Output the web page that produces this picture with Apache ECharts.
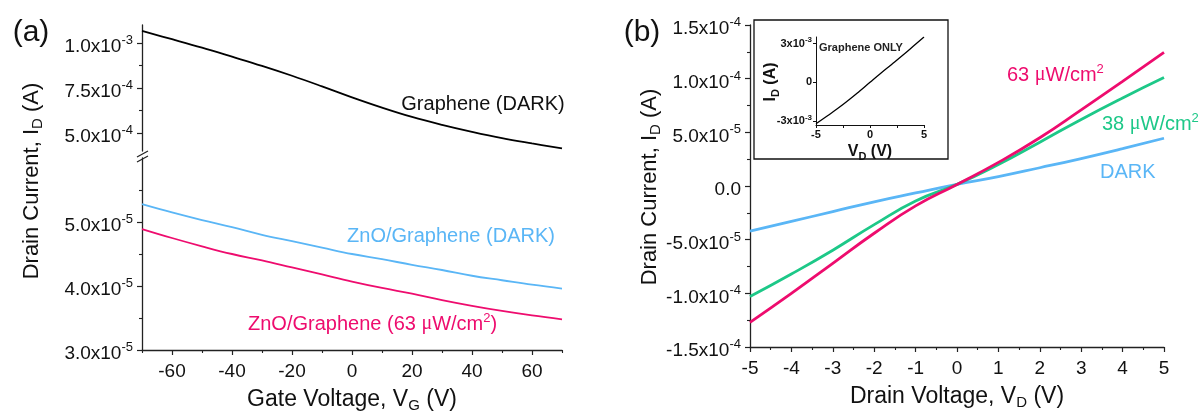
<!DOCTYPE html>
<html>
<head>
<meta charset="utf-8">
<script src="https://cdn.jsdelivr.net/npm/echarts@6/dist/echarts.min.js"></script>
<style>
html,body{margin:0;padding:0;background:#fff;width:1203px;height:415px;overflow:hidden;}
#c{width:1203px;height:415px;overflow:hidden;}
</style>
</head>
<body>
<div id="c"></div>
<script>
// ---------- data ----------
const gateVoltage = [-70,-60,-50,-40,-30,-20,-10,0,10,20,30,40,50,60,70];
const grapheneDark = [1.067e-3,1.021e-3,9.74e-4,9.24e-4,8.73e-4,8.18e-4,7.59e-4,6.98e-4,6.41e-4,5.89e-4,5.45e-4,5.06e-4,4.71e-4,4.42e-4,4.15e-4];
const znoDark = [5.28e-5,5.15e-5,5.03e-5,4.92e-5,4.80e-5,4.70e-5,4.60e-5,4.50e-5,4.42e-5,4.33e-5,4.25e-5,4.16e-5,4.09e-5,4.02e-5,3.96e-5];
const zno63 = [4.89e-5,4.75e-5,4.62e-5,4.50e-5,4.40e-5,4.29e-5,4.18e-5,4.07e-5,3.97e-5,3.88e-5,3.78e-5,3.69e-5,3.61e-5,3.54e-5,3.48e-5];

const drainVoltage = [-5,-4,-3,-2,-1,0,1,2,3,4,5];
const darkB = [-4.2e-5,-3.3e-5,-2.38e-5,-1.47e-5,-6.5e-6,1.5e-6,8.7e-6,1.7e-5,2.56e-5,3.48e-5,4.45e-5];
const p38 = [-1.03e-4,-8.2e-5,-5.98e-5,-3.6e-5,-1.4e-5,1.5e-6,2.0e-5,4.08e-5,6.2e-5,8.2e-5,1.01e-4];
const p63 = [-1.27e-4,-1.0e-4,-7.2e-5,-4.4e-5,-1.85e-5,1.5e-6,2.2e-5,4.5e-5,7.1e-5,9.75e-5,1.245e-4];

const insetVoltage = [-5,-4,-3,-2,-1,0,1,2,3,4,5];
const grapheneOnly = [-3.2e-3,-2.62e-3,-2.03e-3,-1.39e-3,-0.71e-3,0,0.7e-3,1.38e-3,2.07e-3,2.78e-3,3.5e-3];

// tick labels
const aTopTicks = [5e-4,7.5e-4,1e-3];
const aTopMinor = [6.25e-4,8.75e-4];
const aBotTicks = [3e-5,4e-5,5e-5];
const aBotMinor = [3.5e-5,4.5e-5,5.5e-5];
const aXTicks = [-60,-40,-20,0,20,40,60];
const aXMinor = [-70,-50,-30,-10,10,30,50,70];
const insetYTicks = [-3e-3,0,3e-3];
const insetXTicks = [-5,-2.5,0,2.5,5];
const insetXLabels = [-5,0,5];

// ---------- styles ----------
const FONT = 'Liberation Sans, Arial, sans-serif';
const C_BLACK = '#000000', C_BLUE = '#5ab6f6', C_PINK = '#ee0c6e', C_GREEN = '#1dc888';
const AX = '#222';

function pairs(xs, ys){ return xs.map((x,i)=>[x, ys[i]]); }
function sci(v){
  if (Math.abs(v) < 1e-15) return '{n|0.0}';
  const s = v < 0 ? '-' : '';
  const a = Math.abs(v);
  const e = Math.floor(Math.log10(a) + 1e-9);
  const m = a / Math.pow(10, e);
  return '{n|' + s + m.toFixed(1) + 'x10}{sup|' + e + '}';
}
function sciShort(v){
  if (Math.abs(v) < 1e-15) return '{n|0}';
  const s = v < 0 ? '-' : '';
  const a = Math.abs(v);
  const e = Math.floor(Math.log10(a) + 1e-9);
  const m = a / Math.pow(10, e);
  return '{n|' + s + Math.round(m) + 'x10}{sup|' + e + '}';
}
const tickRich = {
  n: {fontSize: 19, fontFamily: FONT, color: '#111', verticalAlign: 'middle'},
  sup: {fontSize: 13, fontFamily: FONT, color: '#111', padding: [0,0,13,0], verticalAlign: 'middle'}
};
const insetRich = {
  n: {fontSize: 11, fontFamily: FONT, fontWeight: 'bold', color: '#111'},
  sup: {fontSize: 8, fontFamily: FONT, fontWeight: 'bold', color: '#111', padding: [0,0,7,0]}
};
const titleRich = {
  t: {fontSize: 23, lineHeight: 18, fontFamily: FONT, color: '#111'},
  s: {fontSize: 15, lineHeight: 12, fontFamily: FONT, color: '#111', padding: [11,0,0,0]}
};
const titleRichG = {
  t: {fontSize: 22, fontFamily: FONT, fill: '#111'},
  s: {fontSize: 15, fontFamily: FONT, fill: '#111', padding: [12,0,0,0]}
};
const insetTitleRich = {
  t: {fontSize: 16, fontFamily: FONT, fontWeight: 'bold', color: '#111'},
  s: {fontSize: 11, fontFamily: FONT, fontWeight: 'bold', color: '#111', padding: [9,0,0,0]}
};
const insetTitleRichG = {
  t: {fontSize: 16, fontFamily: FONT, fontWeight: 'bold', fill: '#111'},
  s: {fontSize: 11, fontFamily: FONT, fontWeight: 'bold', fill: '#111', padding: [9,0,0,0]}
};
function annRich(color){
  return {
    t: {fontSize: 20, fontFamily: FONT, fill: color},
    mu: {fontSize: 20, fontFamily: 'Liberation Serif, serif', fill: color},
    sup: {fontSize: 13, fontFamily: FONT, fill: color, padding: [0,0,12,0]}
  };
}

const axLine = {show: true, onZero: false, lineStyle: {color: AX, width: 1.3}};
const majorTick = (vals) => ({show: true, inside: false, length: 5, lineStyle: {color: AX, width: 1.2}, customValues: vals});
const minorAxisBase = {
  axisLine: {show: false, onZero: false}, axisLabel: {show: false}, splitLine: {show: false}
};
const YLABEL_PAD = [8,0,0,0];

const option = {
  animation: false,
  backgroundColor: '#fff',
  grid: [
    {left: 142, top: 25, width: 420, height: 126},
    {left: 142, top: 158, width: 420, height: 192},
    {left: 750, top: 25, width: 414, height: 325},
    {left: 816, top: 37, width: 108, height: 88, z: 6}
  ],
  xAxis: [
    {gridIndex: 0, type: 'value', min: -70, max: 70, show: false},
    {gridIndex: 1, type: 'value', min: -70, max: 70, position: 'bottom',
      axisLine: axLine, axisTick: majorTick(aXTicks), splitLine: {show: false},
      axisLabel: {customValues: aXTicks, margin: 12, fontSize: 19, fontFamily: FONT, color: '#111'},
      name: '{t|Gate Voltage, V}{s|G}{t| (V)}', nameLocation: 'middle', nameGap: 41,
      nameTextStyle: {rich: titleRich}
    },
    Object.assign({gridIndex: 1, type: 'value', min: -70, max: 70, position: 'bottom', offset: 0,
      axisTick: {show: true, length: 3, lineStyle: {color: AX, width: 1.1}, customValues: aXMinor}}, minorAxisBase),
    {gridIndex: 2, type: 'value', min: -5, max: 5, interval: 1, position: 'bottom',
      axisLine: axLine, axisTick: {show: true, length: 5, lineStyle: {color: AX, width: 1.2}},
      minorTick: {show: true, splitNumber: 2, length: 3, lineStyle: {color: AX, width: 1.1}},
      splitLine: {show: false}, minorSplitLine: {show: false},
      axisLabel: {margin: 12, fontSize: 19, fontFamily: FONT, color: '#111'},
      name: '{t|Drain Voltage, V}{s|D}{t| (V)}', nameLocation: 'middle', nameGap: 41,
      nameTextStyle: {rich: titleRich}
    },
    {gridIndex: 3, type: 'value', min: -5, max: 5, z: 7, position: 'bottom',
      axisLine: {show: true, onZero: false, lineStyle: {color: '#111', width: 1}},
      axisTick: {show: true, length: 3, lineStyle: {color: '#111', width: 1}, customValues: insetXTicks},
      splitLine: {show: false},
      axisLabel: {customValues: insetXLabels, margin: 4, fontSize: 11, fontWeight: 'bold', fontFamily: FONT, color: '#111'},
      name: '{t|V}{s|D}{t| (V)}', nameLocation: 'middle', nameGap: 17,
      nameTextStyle: {rich: insetTitleRich}
    }
  ],
  yAxis: [
    {gridIndex: 0, type: 'value', min: 4e-4, max: 1.1e-3, position: 'left',
      axisLine: axLine, axisTick: majorTick(aTopTicks), splitLine: {show: false},
      axisLabel: {customValues: aTopTicks, margin: 9, padding: YLABEL_PAD, formatter: sci, rich: tickRich}
    },
    Object.assign({gridIndex: 0, type: 'value', min: 4e-4, max: 1.1e-3, position: 'left', offset: 0,
      axisTick: {show: true, length: 3, lineStyle: {color: AX, width: 1.1}, customValues: aTopMinor}}, minorAxisBase),
    {gridIndex: 1, type: 'value', min: 3e-5, max: 6e-5, position: 'left',
      axisLine: axLine, axisTick: majorTick(aBotTicks), splitLine: {show: false},
      axisLabel: {customValues: aBotTicks, margin: 9, padding: YLABEL_PAD, formatter: sci, rich: tickRich}
    },
    Object.assign({gridIndex: 1, type: 'value', min: 3e-5, max: 6e-5, position: 'left', offset: 0,
      axisTick: {show: true, length: 3, lineStyle: {color: AX, width: 1.1}, customValues: aBotMinor}}, minorAxisBase),
    {gridIndex: 2, type: 'value', min: -1.5e-4, max: 1.5e-4, interval: 5e-5, position: 'left',
      axisLine: axLine, axisTick: {show: true, length: 5, lineStyle: {color: AX, width: 1.2}},
      minorTick: {show: true, splitNumber: 2, length: 3, lineStyle: {color: AX, width: 1.1}},
      splitLine: {show: false}, minorSplitLine: {show: false},
      axisLabel: {margin: 9, padding: YLABEL_PAD, formatter: sci, rich: tickRich}
    },
    {gridIndex: 3, type: 'value', min: -3.3e-3, max: 3.5e-3, z: 7, position: 'left',
      axisLine: {show: true, onZero: false, lineStyle: {color: '#111', width: 1}},
      axisTick: {show: true, length: 3, lineStyle: {color: '#111', width: 1}, customValues: insetYTicks},
      splitLine: {show: false},
      axisLabel: {customValues: insetYTicks, margin: 4, formatter: sciShort, rich: insetRich}
    }
  ],
  series: [
    {name: 'Graphene (DARK)', type: 'line', xAxisIndex: 0, yAxisIndex: 0, data: pairs(gateVoltage, grapheneDark),
      smooth: 0.4, showSymbol: false, lineStyle: {color: C_BLACK, width: 1.8}},
    {name: 'ZnO/Graphene (DARK)', type: 'line', xAxisIndex: 1, yAxisIndex: 2, data: pairs(gateVoltage, znoDark),
      smooth: 0.4, showSymbol: false, lineStyle: {color: C_BLUE, width: 1.8}},
    {name: 'ZnO/Graphene (63)', type: 'line', xAxisIndex: 1, yAxisIndex: 2, data: pairs(gateVoltage, zno63),
      smooth: 0.4, showSymbol: false, lineStyle: {color: C_PINK, width: 1.8}},
    {name: 'DARK', type: 'line', xAxisIndex: 3, yAxisIndex: 4, data: pairs(drainVoltage, darkB),
      smooth: 0.5, showSymbol: false, lineStyle: {color: C_BLUE, width: 2.8}},
    {name: '38', type: 'line', xAxisIndex: 3, yAxisIndex: 4, data: pairs(drainVoltage, p38),
      smooth: 0.5, showSymbol: false, lineStyle: {color: C_GREEN, width: 2.8}},
    {name: '63', type: 'line', xAxisIndex: 3, yAxisIndex: 4, data: pairs(drainVoltage, p63),
      smooth: 0.5, showSymbol: false, lineStyle: {color: C_PINK, width: 2.8}},
    {name: 'Graphene ONLY', type: 'line', xAxisIndex: 4, yAxisIndex: 5, data: pairs(insetVoltage, grapheneOnly),
      smooth: 0.5, showSymbol: false, z: 8, lineStyle: {color: '#000', width: 1.3}}
  ],
  graphic: [
    {type: 'rect', z: 1, shape: {x: 754, y: 20, width: 194, height: 139},
      style: {fill: '#fff', stroke: '#111', lineWidth: 1.3}},
    {type: 'text', x: 31, y: 33, style: {text: '(a)', fontSize: 30, fontFamily: FONT, fill: '#111', align: 'center', verticalAlign: 'middle'}},
    {type: 'text', x: 642, y: 33, style: {text: '(b)', fontSize: 30, fontFamily: FONT, fill: '#111', align: 'center', verticalAlign: 'middle'}},
    {type: 'text', x: 32, y: 181, rotation: Math.PI/2,
      style: {text: '{t|Drain Current, I}{s|D}{t| (A)}', rich: titleRichG, align: 'center', verticalAlign: 'middle'}},
    {type: 'text', x: 650, y: 187, rotation: Math.PI/2,
      style: {text: '{t|Drain Current, I}{s|D}{t| (A)}', rich: titleRichG, align: 'center', verticalAlign: 'middle'}},
    {type: 'text', x: 771, y: 82, rotation: Math.PI/2, z: 9,
      style: {text: '{t|I}{s|D}{t| (A)}', rich: insetTitleRichG, align: 'center', verticalAlign: 'middle'}},
    {type: 'text', x: 819, y: 48, z: 9,
      style: {text: 'Graphene ONLY', fontSize: 11, fontWeight: 'bold', fontFamily: FONT, fill: '#222', align: 'left', verticalAlign: 'middle'}},
    {type: 'text', x: 483, y: 104,
      style: {text: 'Graphene (DARK)', fontSize: 20, fontFamily: FONT, fill: '#111', align: 'center', verticalAlign: 'middle'}},
    {type: 'text', x: 451, y: 236,
      style: {text: 'ZnO/Graphene (DARK)', fontSize: 20, fontFamily: FONT, fill: C_BLUE, align: 'center', verticalAlign: 'middle'}},
    {type: 'text', x: 248, y: 324,
      style: {text: '{t|ZnO/Graphene (63 }{mu|μ}{t|W/cm}{sup|2}{t|)}', rich: annRich(C_PINK), align: 'left', verticalAlign: 'middle'}},
    {type: 'text', x: 1007, y: 75,
      style: {text: '{t|63 }{mu|μ}{t|W/cm}{sup|2}', rich: annRich(C_PINK), align: 'left', verticalAlign: 'middle'}},
    {type: 'text', x: 1102, y: 124,
      style: {text: '{t|38 }{mu|μ}{t|W/cm}{sup|2}', rich: annRich(C_GREEN), align: 'left', verticalAlign: 'middle'}},
    {type: 'text', x: 1100, y: 172,
      style: {text: 'DARK', fontSize: 20, fontFamily: FONT, fill: C_BLUE, align: 'left', verticalAlign: 'middle'}},
    {type: 'polyline', shape: {points: [[137,157],[148,151]]}, style: {stroke: AX, lineWidth: 1.2, fill: null}},
    {type: 'polyline', shape: {points: [[137,162],[148,156]]}, style: {stroke: AX, lineWidth: 1.2, fill: null}}
  ]
};

const chart = echarts.init(document.getElementById('c'));
chart.setOption(option);
</script>
</body>
</html>
